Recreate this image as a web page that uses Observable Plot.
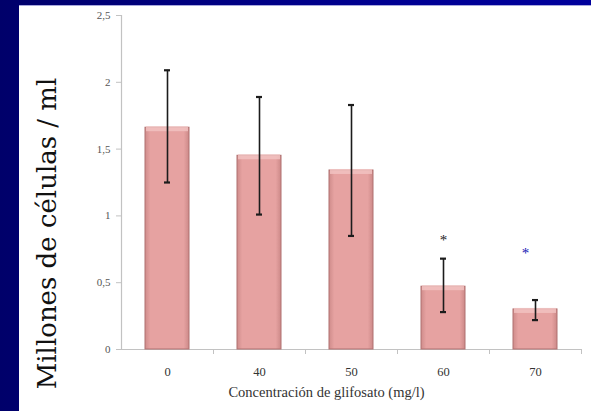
<!DOCTYPE html>
<html><head><meta charset="utf-8">
<script src="https://cdn.jsdelivr.net/npm/d3@7"></script>
<script src="https://cdn.jsdelivr.net/npm/@observablehq/plot@0.6"></script>
<style>
html,body{margin:0;padding:0;}
body{width:591px;height:411px;overflow:hidden;position:relative;background:linear-gradient(90deg,#00006a 0%,#00007e 30%,#000094 70%,#00009c 100%);}
#panel{position:absolute;left:19px;top:6px;width:572px;height:405px;background:#fff;}
#panel::before{content:"";position:absolute;left:0;top:-1px;width:100%;height:1px;background:#a8a8dc;}
#panel svg{display:block;}
#panel svg text{font-family:'Liberation Serif','Times New Roman',serif;}
</style></head><body><div id="panel"></div>
<script>
const categories = ["0", "40", "50", "60", "70"];
const means = [1.66, 1.45, 1.34, 0.47, 0.30];
const upper = [2.09, 1.89, 1.83, 0.68, 0.37];
const lower = [1.25, 1.01, 0.85, 0.28, 0.22];
const yTicks = [0, 0.5, 1, 1.5, 2, 2.5];
const yTitle = "Millones de células / ml";
const xTitle = "Concentración de glifosato (mg/l)";
const starCats = ["60", "70"];
const starValues = [0.82, 0.72];

const data = categories.map((c, i) => ({c, m: means[i], hi: upper[i], lo: lower[i]}));
const halfStep = 46;
const axisGray = "#c2c2c2";
const serif = "'Liberation Serif', 'Times New Roman', serif";

const svg = Plot.plot({
  width: 572, height: 405,
  marginLeft: 102, marginRight: 10, marginTop: 9, marginBottom: 62,
  style: {background: "transparent", fontFamily: serif},
  x: {domain: categories, paddingInner: 0.52, paddingOuter: 0.26, align: 0.5, axis: null},
  y: {domain: [0, 2.5], axis: null},
  marks: [
    Plot.ruleY([0], {stroke: axisGray, strokeWidth: 1.2}),
    Plot.ruleX(categories, {x: d => d, dx: halfStep, y1: 0, y2: 0, insetBottom: -5, stroke: axisGray}),
    Plot.ruleX([categories[0]], {x: d => d, dx: -halfStep, y1: 0, y2: 2.5, stroke: axisGray, strokeWidth: 1.2}),
    Plot.barY(data, {x: "c", y: "m", fill: "url(#barGrad)", stroke: "#b07170", strokeWidth: 1}),
    Plot.barY(data, {x: "c", y1: d => d.m, y2: d => d.m, insetTop: -1, insetBottom: -4, insetLeft: 1, insetRight: 1, fill: "#f2c4c3", fillOpacity: 0.8}),
    Plot.ruleX(data, {x: "c", y1: "lo", y2: "hi", stroke: "#1c1c1c", strokeWidth: 1.6}),
    Plot.tickY(data, {x: "c", y: "hi", insetLeft: 19, insetRight: 19, stroke: "#1c1c1c", strokeWidth: 2.2}),
    Plot.tickY(data, {x: "c", y: "lo", insetLeft: 19, insetRight: 19, stroke: "#1c1c1c", strokeWidth: 2.2}),
    Plot.axisY({ticks: yTicks, tickSize: 5, tickPadding: 6, tickFormat: d => String(d).replace(".", ","),
      fontSize: 11, fontFamily: serif, color: "#555", stroke: axisGray, label: null}),
    Plot.axisX({tickSize: 0, tickPadding: 18, fontSize: 12.5, fontFamily: serif, color: "#333", label: null}),
    Plot.text([yTitle], {frameAnchor: "left", rotate: -90, dx: -66, dy: 51, lineAnchor: "bottom", textAnchor: "middle",
      fontSize: 26, fontFamily: "'DejaVu Serif', serif", fill: "#111"}),
    Plot.text([xTitle], {frameAnchor: "bottom", dx: -25, dy: 47, fontSize: 14.5, fontFamily: serif, fill: "#333"}),
    Plot.text([starCats[0]], {x: d => d, y: () => starValues[0], text: () => "*", fontSize: 15, fontFamily: serif, fill: "#222"}),
    Plot.text([starCats[1]], {x: d => d, y: () => starValues[1], text: () => "*", dx: -10, fontSize: 15, fontFamily: serif, fill: "#1414b4"})
  ]
});

const ns = "http://www.w3.org/2000/svg";
const defs = document.createElementNS(ns, "defs");
defs.innerHTML = '<linearGradient id="barGrad" x1="0" x2="1" y1="0" y2="0">' +
  '<stop offset="0" stop-color="#cf8c8b"/><stop offset="0.12" stop-color="#e6a2a1"/>' +
  '<stop offset="0.88" stop-color="#e6a2a1"/><stop offset="1" stop-color="#cc8988"/></linearGradient>';
svg.prepend(defs);
document.getElementById("panel").appendChild(svg);
document.querySelectorAll("#panel svg text").forEach(t => {
  if (t.textContent === yTitle) t.style.fontFamily = "'DejaVu Serif', serif";
});
</script></body></html>
